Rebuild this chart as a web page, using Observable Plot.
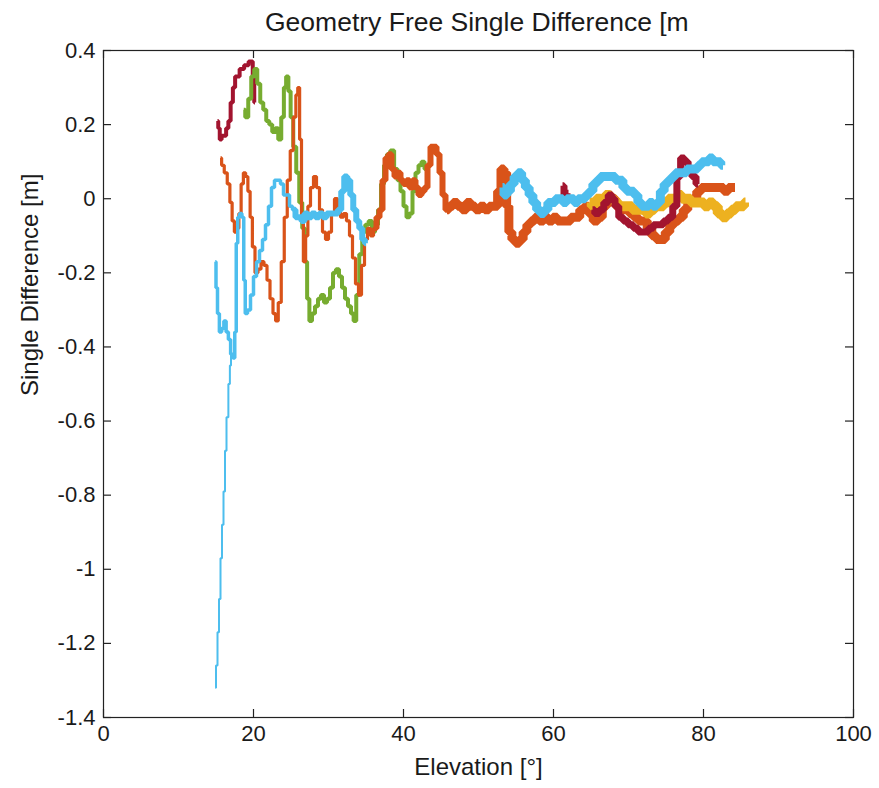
<!DOCTYPE html>
<html>
<head>
<meta charset="utf-8">
<script src="https://cdn.jsdelivr.net/npm/d3@7"></script>
<script src="https://cdn.jsdelivr.net/npm/@observablehq/plot@0.6"></script>
<style>
  body { margin: 0; background: #fff; font-family: "Liberation Sans", Arial, sans-serif; }
  #wrap { position: relative; width: 879px; height: 788px; }
  #title { position: absolute; left: 265px; top: 7px; width: 424px; overflow: hidden; white-space: nowrap;
           font-size: 26.5px; line-height: 30px; color: #1a1a1a; }
  #chart { position: absolute; left: 0; top: 0; }
</style>
</head>
<body>
<div id="wrap">
  <div id="chart"></div>
  <div id="title">Geometry Free Single Difference [m</div>
</div>
<script>
// ---- data: [elevation (deg), single difference (m)] ----
const xTicks = [0, 20, 40, 60, 80, 100];
const yTicks = [-1.4, -1.2, -1, -0.8, -0.6, -0.4, -0.2, 0, 0.2, 0.4];

const redEarly = [[15.2,0.21],[15.4,0.19],[15.6,0.16],[15.9,0.17],[16.2,0.17],[16.5,0.19],[16.8,0.21],[17.1,0.26],[17.4,0.30],[17.7,0.33],[18.0,0.33],[18.3,0.35],[18.6,0.35],[18.9,0.36],[19.2,0.36],[19.5,0.37],[19.8,0.37],[20.0,0.33],[20.2,0.26]];
const redMid = [[61.2,0.035],[61.6,0.01],[62.0,0.015]];
const redLate = [[65.2,-0.03],[65.8,-0.04],[66.4,-0.03],[67.0,-0.01],[67.6,0.01],[68.0,0.00],[68.4,-0.02],[69.0,-0.05],[69.6,-0.06],[70.3,-0.07],[71.0,-0.08],[71.6,-0.09],[72.3,-0.09],[73.0,-0.08],[73.6,-0.07],[74.3,-0.07],[75.0,-0.06],[75.6,-0.05],[76.2,-0.02],[76.7,0.06],[77.2,0.11],[77.7,0.10],[78.2,0.08],[78.7,0.06],[79.3,0.04]];

const green = [[18.7,0.24],[19.1,0.22],[19.5,0.27],[19.9,0.33],[20.3,0.35],[20.7,0.31],[21.1,0.26],[21.5,0.24],[21.9,0.21],[22.3,0.20],[22.7,0.18],[23.1,0.19],[23.5,0.16],[23.9,0.22],[24.2,0.30],[24.5,0.33],[24.8,0.29],[25.1,0.22],[25.5,0.14],[25.9,0.07],[26.3,-0.01],[26.7,-0.08],[27.0,-0.17],[27.3,-0.27],[27.6,-0.33],[28.0,-0.31],[28.4,-0.29],[28.8,-0.27],[29.2,-0.26],[29.6,-0.28],[30.0,-0.27],[30.4,-0.24],[30.8,-0.20],[31.2,-0.19],[31.6,-0.21],[32.0,-0.24],[32.4,-0.27],[32.8,-0.29],[33.2,-0.31],[33.5,-0.33],[33.9,-0.26],[34.3,-0.15],[34.7,-0.09],[35.1,-0.07],[35.6,-0.06],[36.0,-0.09],[36.4,-0.07],[36.8,-0.03],[37.2,0.04],[37.6,0.09],[38.0,0.12],[38.5,0.13],[39.0,0.08],[39.4,0.05],[39.8,0.02],[40.2,-0.02],[40.6,-0.05],[41.0,-0.04],[41.4,0.02],[41.8,0.07],[42.2,0.09],[42.6,0.10],[43.0,0.08],[43.3,0.06]];

const orangeEarly = [[15.6,0.11],[15.9,0.09],[16.3,0.07],[16.7,0.04],[17.0,-0.01],[17.3,-0.06],[17.6,-0.09],[17.9,-0.08],[18.2,-0.04],[18.5,0.04],[18.8,0.07],[19.1,0.06],[19.4,0.02],[19.7,-0.05],[20.0,-0.13],[20.4,-0.20],[20.8,-0.19],[21.2,-0.17],[21.6,-0.18],[22.0,-0.22],[22.4,-0.27],[22.8,-0.31],[23.1,-0.33],[23.5,-0.28],[23.9,-0.17],[24.3,-0.05],[24.7,0.05],[25.1,0.13],[25.5,0.22],[25.8,0.28],[26.0,0.30],[26.3,0.16],[26.5,-0.05],[26.8,-0.17],[27.1,-0.10],[27.4,-0.02],[27.8,0.03],[28.2,0.06],[28.6,0.03],[29.0,-0.03],[29.4,-0.09],[29.8,-0.11],[30.2,-0.09],[30.6,-0.04],[31.0,0.00],[31.4,-0.03],[31.8,-0.05],[32.2,-0.04],[32.6,-0.06],[33.0,-0.10],[33.4,-0.16],[33.8,-0.23],[34.2,-0.26],[34.6,-0.18],[35.0,-0.11],[35.4,-0.08],[35.8,-0.10],[36.2,-0.08]];
const orangeMid = [[36.2,-0.08],[36.6,-0.05],[37.0,-0.03],[37.4,0.05],[37.8,0.11],[38.2,0.12],[38.6,0.08],[39.0,0.06],[39.4,0.07],[39.8,0.05],[40.2,0.04],[40.6,0.05],[41.0,0.03],[41.4,0.05],[41.8,0.03],[42.2,0.01],[42.6,0.02],[43.0,0.03],[43.4,0.09],[43.8,0.14],[44.2,0.14],[44.6,0.12],[45.0,0.07],[45.4,0.01],[45.8,-0.03]];
const orangeLate = [[45.8,-0.03],[46.3,-0.02],[46.9,-0.01],[47.5,-0.02],[48.1,-0.03],[48.7,-0.01],[49.3,-0.02],[49.9,-0.03],[50.5,-0.02],[51.1,-0.03],[51.7,-0.02],[52.3,-0.02],[52.8,0.02],[53.2,0.08],[53.6,0.07],[53.9,-0.02],[54.2,-0.09],[54.7,-0.11],[55.2,-0.12],[55.7,-0.11],[56.2,-0.09],[56.7,-0.07],[57.2,-0.06],[57.8,-0.05],[58.4,-0.06],[59.0,-0.05],[59.6,-0.06],[60.2,-0.05],[60.8,-0.06],[61.4,-0.06],[62.0,-0.06],[62.6,-0.05],[63.2,-0.05],[63.8,-0.03],[64.4,-0.02],[65.0,-0.04],[65.6,-0.06],[66.2,-0.05],[66.8,-0.02],[67.4,0.01],[68.0,0.00],[68.6,-0.02],[69.2,-0.03],[69.8,-0.03],[70.4,-0.04],[71.0,-0.05],[71.6,-0.06],[72.2,-0.06],[72.8,-0.08],[73.4,-0.10],[74.0,-0.11],[74.6,-0.11],[75.2,-0.09],[75.8,-0.07],[76.4,-0.06],[77.0,-0.05],[77.6,-0.03],[78.2,-0.01],[78.8,0.00],[79.4,0.02],[80.0,0.03],[80.6,0.03],[81.2,0.03],[81.8,0.03],[82.4,0.03],[83.0,0.02],[83.6,0.03],[84.2,0.03]];

const yellow = [[64.8,-0.01],[65.4,-0.02],[66.0,0.00],[66.6,-0.01],[67.2,0.01],[67.8,0.00],[68.4,-0.01],[69.0,-0.02],[69.6,-0.02],[70.2,-0.02],[70.8,-0.03],[71.4,-0.03],[72.0,-0.03],[72.6,-0.04],[73.2,-0.03],[73.8,-0.02],[74.4,-0.02],[75.0,-0.01],[75.6,0.00],[76.2,0.00],[76.8,0.01],[77.4,0.00],[78.0,0.00],[78.6,-0.01],[79.2,-0.01],[79.8,-0.01],[80.4,-0.02],[81.0,-0.01],[81.6,-0.02],[82.2,-0.04],[82.8,-0.05],[83.4,-0.04],[84.0,-0.03],[84.6,-0.02],[85.2,-0.02],[85.6,-0.01]];

const blueRise = [[14.9,-1.32],[15.1,-1.26],[15.3,-1.17],[15.5,-1.08],[15.7,-0.97],[15.9,-0.88],[16.1,-0.79],[16.3,-0.68],[16.5,-0.59],[16.8,-0.50],[16.9,-0.45],[17.1,-0.42]];
const blueEarly = [[14.9,-0.17],[15.1,-0.24],[15.3,-0.31],[15.6,-0.36],[15.9,-0.35],[16.2,-0.33],[16.5,-0.36],[16.8,-0.38],[17.1,-0.42],[17.4,-0.43],[17.6,-0.36],[17.8,-0.12],[18.0,-0.05],[18.3,-0.04],[18.6,-0.05],[18.8,-0.22],[19.0,-0.31],[19.4,-0.30],[19.8,-0.26],[20.2,-0.21],[20.6,-0.17],[21.0,-0.14],[21.4,-0.11],[21.8,-0.07],[22.2,-0.02],[22.6,0.03],[23.0,0.05],[23.4,0.05],[23.8,0.04],[24.2,0.01],[24.6,0.01],[25.0,-0.02],[25.4,-0.03]];
const blueMid = [[25.4,-0.03],[25.8,-0.05],[26.2,-0.05],[26.6,-0.06],[27.0,-0.04],[27.5,-0.05],[28.0,-0.04],[28.5,-0.05],[29.0,-0.04],[29.5,-0.05],[30.0,-0.04],[30.5,-0.04],[31.0,-0.04],[31.5,-0.03],[31.9,0.02],[32.3,0.06],[32.7,0.05],[33.1,0.01],[33.5,-0.03],[33.9,-0.06],[34.3,-0.08],[34.7,-0.11],[35.0,-0.12]];
const blueLate = [[53.2,0.03],[53.6,0.01],[54.0,0.02],[54.5,0.04],[55.0,0.06],[55.5,0.07],[56.0,0.05],[56.5,0.03],[57.0,0.01],[57.5,-0.01],[58.0,-0.03],[58.5,-0.04],[59.0,-0.03],[59.5,-0.01],[60.0,-0.01],[60.5,0.00],[61.0,0.00],[61.5,-0.01],[62.0,0.00],[62.5,0.00],[63.0,-0.01],[63.5,0.00],[64.0,0.00],[64.5,0.01],[65.0,0.02],[65.5,0.04],[66.0,0.05],[66.5,0.06],[67.0,0.06],[67.5,0.06],[68.0,0.06],[68.5,0.05],[69.0,0.05],[69.5,0.03],[70.0,0.02],[70.5,0.02],[71.0,0.01],[71.5,-0.01],[72.0,-0.02],[72.5,-0.02],[73.0,-0.01],[73.5,-0.02],[74.0,-0.01],[74.5,0.02],[75.0,0.04],[75.5,0.05],[76.0,0.06],[76.5,0.07],[77.0,0.07],[77.5,0.07],[78.0,0.08],[78.5,0.08],[79.0,0.08],[79.5,0.09],[80.0,0.10],[80.5,0.10],[81.0,0.11],[81.5,0.10],[82.0,0.10],[82.6,0.09]];

// ---- styling ----
const C = {red: "#A2142F", green: "#77AC30", orange: "#D95319", yellow: "#EDB120", blue: "#4DBEEE"};
const layers = [
  {data: redEarly, color: C.red, w: 4},
  {data: green, color: C.green, w: 4},
  {data: orangeEarly, color: C.orange, w: 3.2},
  {data: blueRise, color: C.blue, w: 2},
  {data: blueEarly, color: C.blue, w: 3.5},
  {data: blueMid, color: C.blue, w: 6},
  {data: orangeMid, color: C.orange, w: 6},
  {data: orangeLate, color: C.orange, w: 9},
  {data: yellow, color: C.yellow, w: 10},
  {data: redMid, color: C.red, w: 7},
  {data: redLate, color: C.red, w: 7},
  {data: blueLate, color: C.blue, w: 9}
];

const W = 879, H = 788, mL = 103, mR = 26, mT = 50, mB = 71;
const xDom = [0, 100], yDom = [-1.4, 0.4];
const tickPx = 8;
const tx = tickPx * (xDom[1] - xDom[0]) / (W - mL - mR);
const ty = tickPx * (yDom[1] - yDom[0]) / (H - mT - mB);

const marks = [];
for (const L of layers) {
  marks.push(Plot.line(L.data, {x: d => d[0], y: d => d[1], curve: "step", stroke: L.color, strokeWidth: L.w, strokeLinejoin: "miter", strokeLinecap: "butt"}));
}
marks.push(
  Plot.frame({stroke: "#222", strokeWidth: 1.2}),
  Plot.ruleX(xTicks, {x: d => d, y1: yDom[0], y2: yDom[0] + ty, stroke: "#222", strokeWidth: 1.2}),
  Plot.ruleX(xTicks, {x: d => d, y1: yDom[1], y2: yDom[1] - ty, stroke: "#222", strokeWidth: 1.2}),
  Plot.ruleY(yTicks, {y: d => d, x1: xDom[0], x2: xDom[0] + tx, stroke: "#222", strokeWidth: 1.2}),
  Plot.ruleY(yTicks, {y: d => d, x1: xDom[1], x2: xDom[1] - tx, stroke: "#222", strokeWidth: 1.2}),
  Plot.axisX(xTicks, {tickSize: 0, tickPadding: 8, fontSize: 22, label: null, tickFormat: d => String(d)}),
  Plot.axisY(yTicks, {tickSize: 0, tickPadding: 8, fontSize: 22, label: null, tickFormat: d => String(Math.round(d * 10) / 10)}),
  Plot.text(["Elevation [°]"], {text: d => d, frameAnchor: "bottom", dy: 57, fontSize: 24}),
  Plot.text(["Single Difference [m]"], {text: d => d, frameAnchor: "left", dx: -73, dy: 12, rotate: -90, fontSize: 24})
);

const chart = Plot.plot({
  width: W, height: H,
  marginLeft: mL, marginRight: mR, marginTop: mT, marginBottom: mB,
  x: {domain: xDom, axis: null},
  y: {domain: yDom, axis: null},
  style: {fontFamily: "'Liberation Sans', Arial, sans-serif", fontSize: "22px", color: "#1a1a1a", background: "white", overflow: "visible"},
  marks
});
document.getElementById("chart").appendChild(chart);
</script>
</body>
</html>
